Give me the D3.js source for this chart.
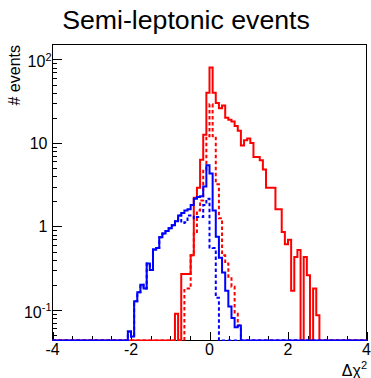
<!DOCTYPE html>
<html>
<head>
<meta charset="utf-8">
<script src="https://cdn.jsdelivr.net/npm/d3@7"></script>
<style>
  body { margin: 0; background: #fff; }
  svg { display: block; font-family: "Liberation Sans", Arial, sans-serif; }
</style>
</head>
<body>
<script>
// ---- data ----
const title = "Semi-leptonic events";
const yTitle = "# events";
const xMin = -4, xMax = 4, nBins = 100;
const xMajorTicks = [-4, -2, 0, 2, 4];
const yMajorTicks = [0.1, 1, 10, 100];

// bin contents, each series starts at the low edge given
const redSolidStart = -0.88;
const redSolid = [0.09, 0, 0.27, 0.27, 0.27, 0.45, 2.2, 2.9, 6.3, 12.5,
  40, 80, 40, 30, 26, 28, 20, 19, 18, 16,
  14, 9.3, 10.8, 11.3, 10, 6.8, 6.8, 6.2, 4.8, 2.9,
  2.9, 2.9, 1.6, 1.6, 0.86, 0.61, 0.69, 0.17, 0.43, 0.52,
  0, 0.43, 0.26, 0, 0.18, 0.086];

const redDashedStart = -0.64;
const redDashed = [0.18, 0.18, 0.45, 0.82, 1.55, 2.05, 4.8, 12, 29, 12,
  3.2, 1.25, 0.45, 0.36, 0.25, 0.19, 0.09, 0.065];

const blueSolidStart = -2.08;
const blueSolid = [0.055, 0.048, 0.127, 0.163, 0.2, 0.18, 0.36, 0.3, 0.53, 0.55,
  0.74, 0.82, 0.88, 0.95, 1.03, 1.15, 1.35, 1.45, 1.55, 1.6,
  1.8, 2.15, 2.25, 2.3, 3.0, 5.4, 4.3, 1.55, 0.75, 0.42,
  0.28, 0.17, 0.11, 0.08, 0.062, 0.065];

const blueDashedStart = -2.08;
const blueDashed = [0.055, 0.048, 0.127, 0.163, 0.2, 0.18, 0.36, 0.3, 0.53, 0.55,
  0.74, 0.82, 0.88, 0.95, 1.03, 1.15, 1.35, 1.1, 1.12, 1.35,
  1.35, 1.25, 1.3, 1.3, 1.8, 2.15, 0.56, 0.55, 0.14];

// ---- layout ----
const W = 371, H = 378;
const frame = { left: 52.5, right: 366.5, top: 44.5, bottom: 340.5 };
const binW = (xMax - xMin) / nBins;

const svg = d3.select("body").append("svg")
  .attr("width", W).attr("height", H);

const x = d3.scaleLinear().domain([xMin, xMax]).range([frame.left, frame.right]);
const y = d3.scaleLog().domain([0.043, 151]).range([frame.bottom, frame.top]);

// frame
svg.append("rect")
  .attr("x", frame.left).attr("y", frame.top)
  .attr("width", frame.right - frame.left).attr("height", frame.bottom - frame.top)
  .style("fill", "none").style("stroke", "#000").style("stroke-width", 1);

// y axis ticks (inside the frame)
const yMinor = [];
[0.01, 0.1, 1, 10, 100].forEach(d => {
  for (let k = 2; k <= 9; k++) {
    const v = d * k;
    if (v >= y.domain()[0] && v <= y.domain()[1]) yMinor.push(v);
  }
});
svg.append("g")
  .attr("transform", "translate(" + frame.left + ",0)")
  .call(d3.axisRight(y).tickValues(yMajorTicks).tickSize(9).tickFormat(""))
  .call(g => g.select(".domain").remove());
svg.append("g")
  .attr("transform", "translate(" + frame.left + ",0)")
  .call(d3.axisRight(y).tickValues(yMinor).tickSize(4.5).tickFormat(""))
  .call(g => g.select(".domain").remove());

// x axis ticks (inside the frame)
const xMinor = d3.range(xMin, xMax + 0.001, 0.5).filter(v => !xMajorTicks.includes(v));
svg.append("g")
  .attr("transform", "translate(0," + frame.bottom + ")")
  .call(d3.axisTop(x).tickValues(xMajorTicks).tickSize(9).tickFormat(""))
  .call(g => g.select(".domain").remove());
svg.append("g")
  .attr("transform", "translate(0," + frame.bottom + ")")
  .call(d3.axisTop(x).tickValues(xMinor).tickSize(4.5).tickFormat(""))
  .call(g => g.select(".domain").remove());
svg.selectAll(".tick line").style("stroke", "#000").style("shape-rendering", "crispEdges");

// x tick labels
svg.append("g").selectAll("text")
  .data(xMajorTicks).enter().append("text")
  .attr("x", d => x(d))
  .attr("y", 354.5)
  .attr("text-anchor", "middle")
  .style("font-size", "16px")
  .text(d => d);

// y tick labels
yMajorTicks.forEach(v => {
  const e = Math.round(Math.log10(v));
  if (e === 0 || e === 1) {
    svg.append("text")
      .attr("x", 47.5).attr("y", y(v) + 5.8)
      .attr("text-anchor", "end")
      .style("font-size", "16px")
      .text(e === 0 ? "1" : "10");
  } else {
    const t = svg.append("text")
      .attr("x", 51.5).attr("y", y(v) + 8)
      .attr("text-anchor", "end")
      .style("font-size", "16px");
    t.append("tspan").text("10");
    t.append("tspan").attr("dy", -6.5).style("font-size", "11px").text(String(e).replace("-", "-"));
  }
});

// title
svg.append("text")
  .attr("x", 186).attr("y", 29)
  .attr("text-anchor", "middle")
  .style("font-size", "26.7px")
  .text(title);

// axis titles
svg.append("text")
  .attr("transform", "translate(19.5," + 45 + ") rotate(-90)")
  .attr("text-anchor", "end")
  .style("font-size", "16px")
  .text(yTitle);

const xt = svg.append("text")
  .attr("x", 367).attr("y", 376)
  .attr("text-anchor", "end")
  .style("font-size", "16px");
xt.append("tspan").text("Δχ");
xt.append("tspan").attr("dy", -7).style("font-size", "11px").text("2");

// ---- histograms ----
svg.append("clipPath").attr("id", "frameClip")
  .append("rect")
  .attr("x", frame.left - 0.5).attr("y", frame.top - 0.5)
  .attr("width", frame.right - frame.left + 1).attr("height", frame.bottom - frame.top + 1);

function fullBins(start, vals) {
  const a = new Array(nBins).fill(0);
  const first = Math.round((start - xMin) / binW);
  vals.forEach((v, i) => { a[first + i] = v; });
  // step points: low edge of each bin, plus the last high edge
  const pts = a.map((v, i) => ({ e: xMin + i * binW, v: v }));
  pts.push({ e: xMax, v: a[nBins - 1] });
  return pts;
}

const step = d3.line()
  .curve(d3.curveStepAfter)
  .x(d => x(d.e))
  .y(d => d.v > 0 ? y(d.v) : frame.bottom);

const plot = svg.append("g").attr("clip-path", "url(#frameClip)");

const series = [
  { start: redSolidStart, vals: redSolid, color: "#ff0000", dash: null },
  { start: redDashedStart, vals: redDashed, color: "#ff0000", dash: "3.5,2.5" },
  { start: blueDashedStart, vals: blueDashed, color: "#0000ff", dash: "3.5,2.5" },
  { start: blueSolidStart, vals: blueSolid, color: "#0000ff", dash: null }
];

series.forEach(s => {
  plot.append("path")
    .datum(fullBins(s.start, s.vals))
    .attr("d", step)
    .style("fill", "none")
    .style("stroke", s.color)
    .style("stroke-width", 2)
    .style("stroke-dasharray", s.dash);
});
</script>
</body>
</html>
